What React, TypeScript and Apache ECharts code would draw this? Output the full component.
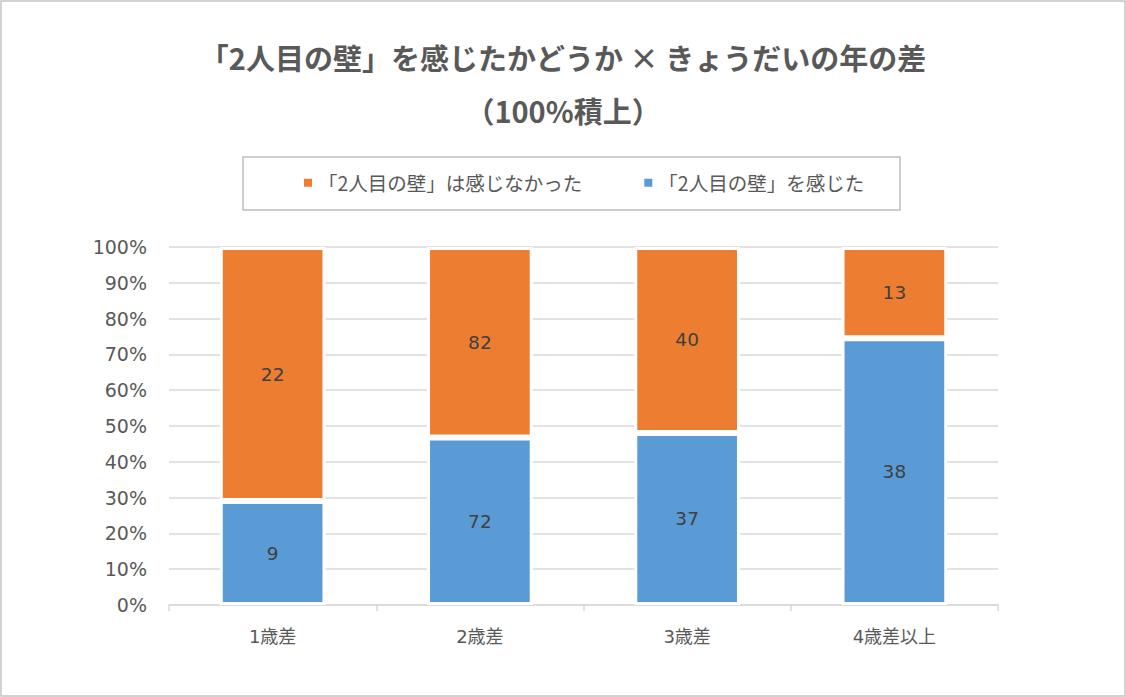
import React, { useEffect, useRef } from "react";
import * as echarts from "echarts";

const categories = ["1歳差", "2歳差", "3歳差", "4歳差以上"];
const feltCounts = [9, 72, 37, 38];
const notFeltCounts = [22, 82, 40, 13];
const seriesNames = ["「2人目の壁」を感じた", "「2人目の壁」は感じなかった"];
const colors = ["#5B9BD5", "#ED7D31"];
const titleLines = ["「2人目の壁」を感じたかどうか × きょうだいの年の差", "（100%積上）"];

const CJK = "'Noto Sans CJK JP', 'Noto Sans', sans-serif";
const NUM = "'DejaVu Sans', 'Noto Sans CJK JP', sans-serif";

export default function App() {
  const ref = useRef<HTMLDivElement>(null);
  useEffect(() => {
    document.body.style.margin = "0";
    if (!ref.current) return;
    const chart = echarts.init(ref.current, null, { renderer: "svg" });
    const totals = feltCounts.map((v, i) => v + notFeltCounts[i]);
    const feltPct = feltCounts.map((v, i) => (v / totals[i]) * 100);
    const notPct = notFeltCounts.map((v, i) => (v / totals[i]) * 100);
    const countsBySeries = [feltCounts, notFeltCounts];
    const mk = (idx: number, data: number[]) => ({
      name: seriesNames[idx],
      type: "bar",
      stack: "total",
      barWidth: "51%",
      data,
      itemStyle: { color: colors[idx], borderColor: "#ffffff", borderWidth: 3 },
      label: {
        show: true,
        position: "inside",
        color: "#404040",
        fontSize: 18.5,
        fontFamily: NUM,
        formatter: (p: any) => String(countsBySeries[idx][p.dataIndex]),
      },
    });
    chart.setOption({
      animation: false,
      backgroundColor: "#ffffff",
      title: {
        text: titleLines.join("\n"),
        left: "center",
        top: 30,
        padding: 0,
        textStyle: {
          fontSize: 29,
          fontWeight: "bold",
          color: "#595959",
          fontFamily: CJK,
          lineHeight: 53,
        },
      },
      graphic: [
        {
          type: "rect",
          shape: { x: 1, y: 1, width: 1124, height: 695 },
          style: { fill: "none", stroke: "#c3c3c3", lineWidth: 1.5 },
          silent: true,
        },
        {
          type: "rect",
          shape: { x: 243, y: 157, width: 657, height: 53 },
          style: { fill: "none", stroke: "#bfbfbf", lineWidth: 1.5 },
          silent: true,
        },
      ],
      legend: {
        data: [seriesNames[1], seriesNames[0]],
        left: 302,
        top: 173,
        padding: 0,
        icon: "rect",
        itemWidth: 10,
        itemHeight: 10,
        itemGap: 60,
        textStyle: { fontSize: 19.5, color: "#595959", fontFamily: CJK },
      },
      grid: { left: 169, right: 128, top: 247, bottom: 92, containLabel: false },
      xAxis: {
        type: "category",
        data: categories,
        axisLine: { lineStyle: { color: "#d9d9d9", width: 1.5 } },
        axisTick: { show: true, length: 6, lineStyle: { color: "#d9d9d9", width: 1.5 } },
        axisLabel: { color: "#595959", fontSize: 18, fontFamily: NUM, margin: 22 },
      },
      yAxis: {
        type: "value",
        min: 0,
        max: 100,
        interval: 10,
        axisLine: { show: false },
        axisTick: { show: false },
        splitLine: { lineStyle: { color: "#d9d9d9", width: 1.5 } },
        axisLabel: {
          color: "#595959",
          fontSize: 19,
          fontFamily: NUM,
          margin: 22,
          formatter: "{value}%",
        },
      },
      series: [mk(0, feltPct), mk(1, notPct)],
    });
    return () => chart.dispose();
  }, []);
  return <div ref={ref} style={{ width: 1126, height: 697 }} />;
}
